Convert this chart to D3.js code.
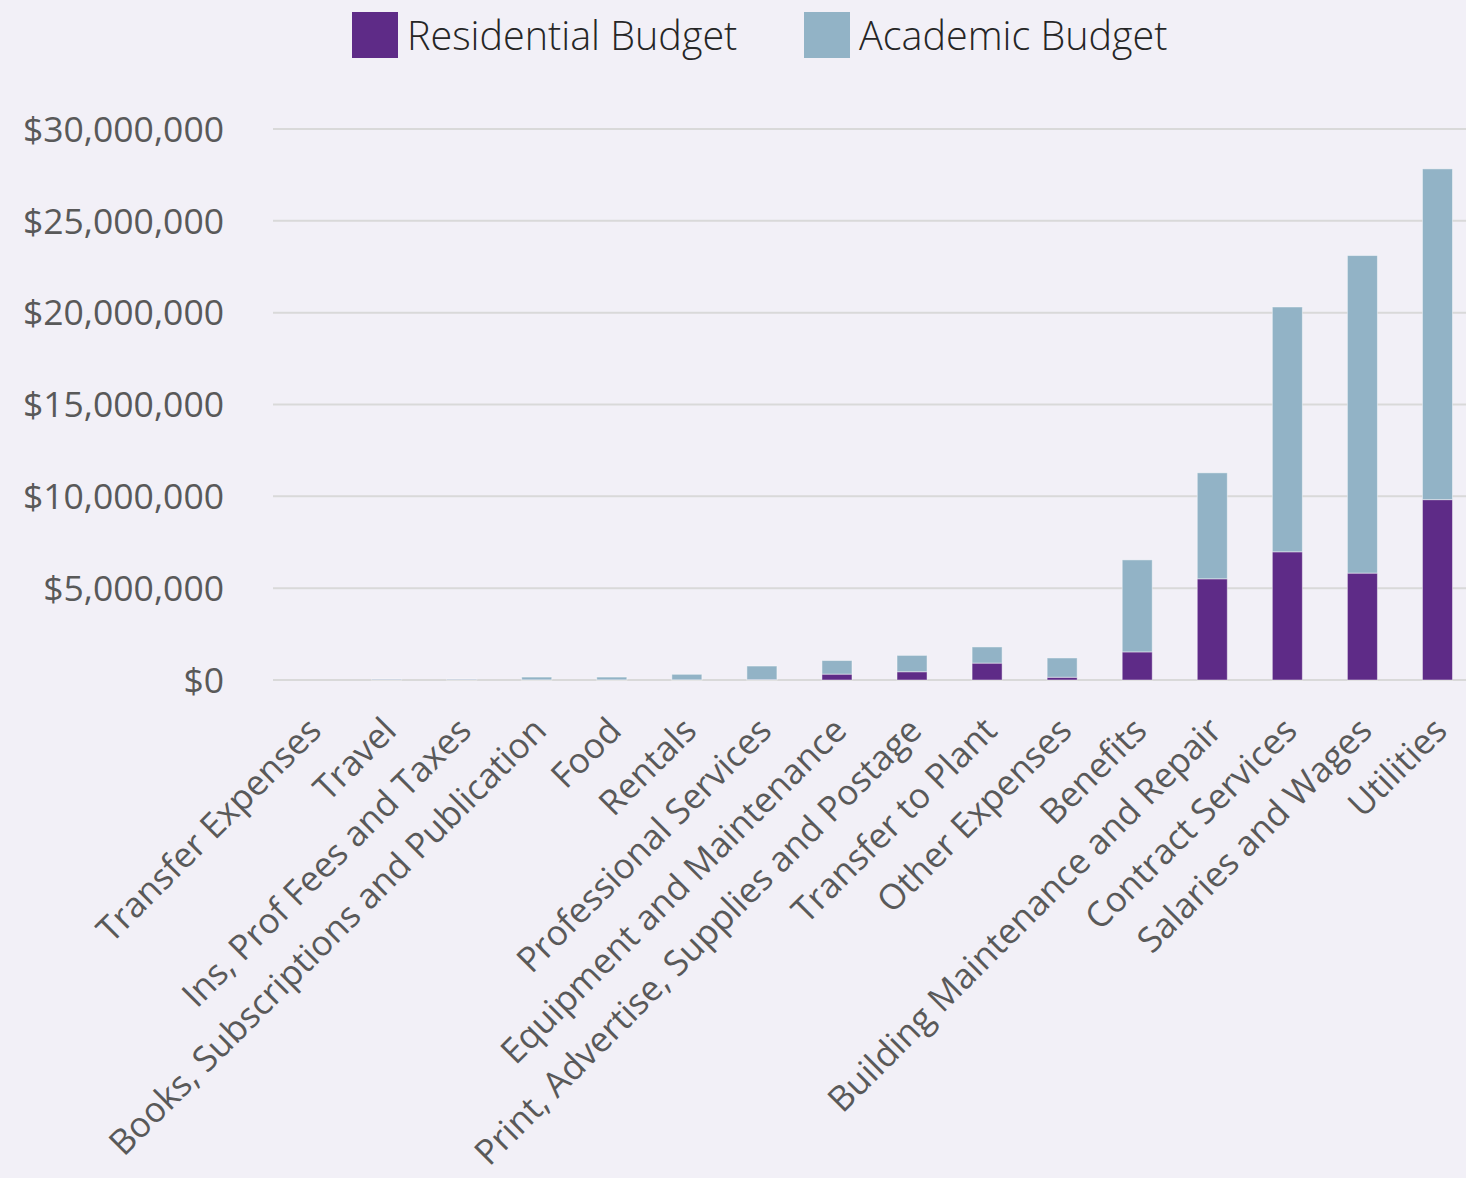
<!DOCTYPE html>
<html>
<head>
<meta charset="utf-8">
<script src="https://cdn.jsdelivr.net/npm/d3@7/dist/d3.min.js"></script>
<style>
  html, body { margin: 0; padding: 0; background: #F2F0F7; }
  svg { display: block; }
</style>
</head>
<body>
<svg id="chart" width="1466" height="1178"></svg>
<script>
const categories = [
  "Transfer Expenses", "Travel", "Ins, Prof Fees and Taxes",
  "Books, Subscriptions and Publication", "Food", "Rentals",
  "Professional Services", "Equipment and Maintenance",
  "Print, Advertise, Supplies and Postage", "Transfer to Plant",
  "Other Expenses", "Benefits", "Building Maintenance and Repair",
  "Contract Services", "Salaries and Wages", "Utilities"
];
const residential = [0, 20000, 20000, 10000, 10000, 10000, 20000, 320000, 450000, 920000, 150000, 1530000, 5510000, 6980000, 5820000, 9820000];
const academic    = [0, 30000, 30000, 150000, 150000, 300000, 740000, 740000, 890000, 880000, 1050000, 5010000, 5770000, 13330000, 17290000, 18010000];
const yTicks = [0, 5000000, 10000000, 15000000, 20000000, 25000000, 30000000];
const seriesNames = ["Residential Budget", "Academic Budget"];
const seriesColors = ["#5E2B87", "#92B3C6"];

const svg = d3.select("#chart");
const x = d3.scaleBand().domain(categories).range([274, 1475]).paddingInner(0.6).paddingOuter(0.3);
const y = d3.scaleLinear().domain([0, 30000000]).range([680, 129]);

// gridlines
svg.append("g").selectAll("line").data(yTicks).join("line")
  .attr("x1", 273).attr("x2", 1466)
  .attr("y1", d => y(d)).attr("y2", d => y(d))
  .attr("stroke", "#D9D9D9").attr("stroke-width", 2);

// y labels
const fmt = d => "$" + d3.format(",")(d);
svg.append("g").selectAll("text").data(yTicks).join("text")
  .attr("x", 224).attr("y", d => y(d)).attr("dy", "0.36em")
  .attr("text-anchor", "end")
  .attr("font-family", "'Open Sans', sans-serif").attr("font-size", 35.5)
  .attr("fill", "#595959")
  .text(fmt);

// stacked data
const rows = categories.map((c, i) => ({cat: c, res: residential[i], aca: academic[i]}));
const stack = d3.stack().keys(["res", "aca"])(rows);

svg.append("g").selectAll("g").data(stack).join("g")
  .attr("fill", (d, i) => seriesColors[i])
  .selectAll("rect").data(d => d).join("rect")
  .attr("x", d => x(d.data.cat))
  .attr("width", x.bandwidth())
  .attr("y", d => y(d[1]))
  .attr("height", d => Math.max(0, y(d[0]) - y(d[1])))
  .attr("stroke", "rgba(255,255,255,0.45)").attr("stroke-width", 1);

// category labels
svg.append("g").selectAll("text").data(categories).join("text")
  .attr("transform", d => `translate(${x(d) + x.bandwidth() / 2 + 3},${724}) rotate(-45)`)
  .attr("text-anchor", "end").attr("dy", "0.35em")
  .attr("font-family", "'Open Sans', sans-serif").attr("font-size", 35)
  .attr("fill", "#595959")
  .text(d => d);

// legend
const legendX = [352, 804];
const lg = svg.append("g").selectAll("g").data(seriesNames).join("g")
  .attr("transform", (d, i) => `translate(${legendX[i]},12)`);
lg.append("rect").attr("width", 46).attr("height", 46).attr("fill", (d, i) => seriesColors[i]);
lg.append("text").attr("x", 55).attr("y", 38)
  .attr("font-family", "'Open Sans', sans-serif").attr("font-size", 39.5).attr("font-weight", 300)
  .attr("fill", "#262626").text(d => d);
</script>
</body>
</html>
